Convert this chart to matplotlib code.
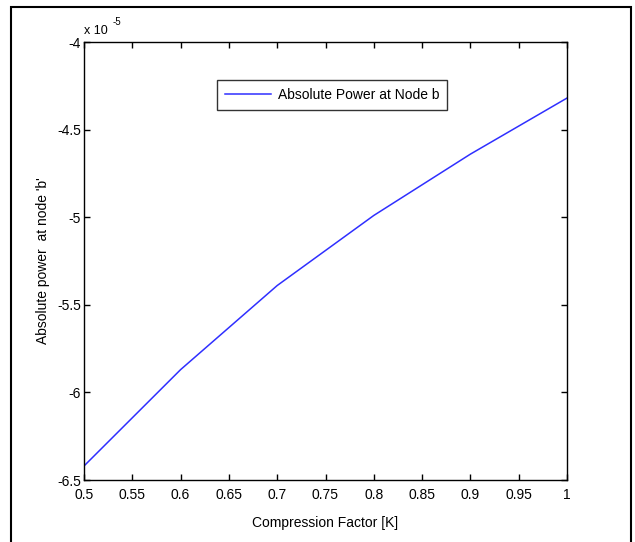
import numpy as np
import matplotlib.pyplot as plt
from matplotlib.patches import Rectangle

# Data (y in units of 1e-5)
compression_factor = [0.5, 0.6, 0.7, 0.8, 0.9, 1.0]
abs_power_b = [-6.42, -5.87, -5.39, -4.99, -4.64, -4.32]

x_ticks = [0.5, 0.55, 0.6, 0.65, 0.7, 0.75, 0.8, 0.85, 0.9, 0.95, 1.0]
x_tick_labels = ['0.5', '0.55', '0.6', '0.65', '0.7', '0.75', '0.8', '0.85', '0.9', '0.95', '1']
y_ticks = [-6.5, -6, -5.5, -5, -4.5, -4]
y_tick_labels = ['-6.5', '-6', '-5.5', '-5', '-4.5', '-4']

plt.rcParams['font.family'] = ['Liberation Sans', 'DejaVu Sans']
plt.rcParams['axes.unicode_minus'] = False

fig = plt.figure(figsize=(6.35, 5.42), dpi=100)
ax = fig.add_axes([84 / 635, 1 - 480 / 542, (567 - 84) / 635, (480 - 42) / 542])

ax.plot(compression_factor, abs_power_b, color='#2f2fff', lw=1.1,
        label='Absolute Power at Node b')

ax.set_xlim(0.5, 1.0)
ax.set_ylim(-6.5, -4)
ax.set_xticks(x_ticks)
ax.set_xticklabels(x_tick_labels)
ax.set_yticks(y_ticks)
ax.set_yticklabels(y_tick_labels)
ax.tick_params(direction='in', length=4, width=1, top=True, right=True,
               labelsize=10)
ax.tick_params(axis='x', pad=6)
ax.tick_params(axis='y', pad=2)
for s in ax.spines.values():
    s.set_linewidth(1.0)

# exponent label in the MATLAB style
ax.text(0.0, 1.012, 'x 10', transform=ax.transAxes, fontsize=9,
        ha='left', va='bottom')
ax.text(0.06, 1.035, '-5', transform=ax.transAxes, fontsize=7,
        ha='left', va='bottom')

ax.set_xlabel('Compression Factor [K]', fontsize=10, labelpad=10)
ax.set_ylabel("Absolute power  at node 'b'", fontsize=10, labelpad=5)

leg = ax.legend(loc='upper left', bbox_to_anchor=(0.26, 0.93), fontsize=10,
                frameon=True, fancybox=False, edgecolor='black',
                handlelength=3.3, borderpad=0.6, handletextpad=0.5)
leg.get_frame().set_linewidth(1.0)

# outer frame around the whole figure
fig.patches.append(Rectangle((11 / 635, -0.05), (631 - 11) / 635, 1.05 - 7 / 542,
                             transform=fig.transFigure, fill=False,
                             edgecolor='black', lw=1.5))

fig.savefig('out.png', dpi=100)
